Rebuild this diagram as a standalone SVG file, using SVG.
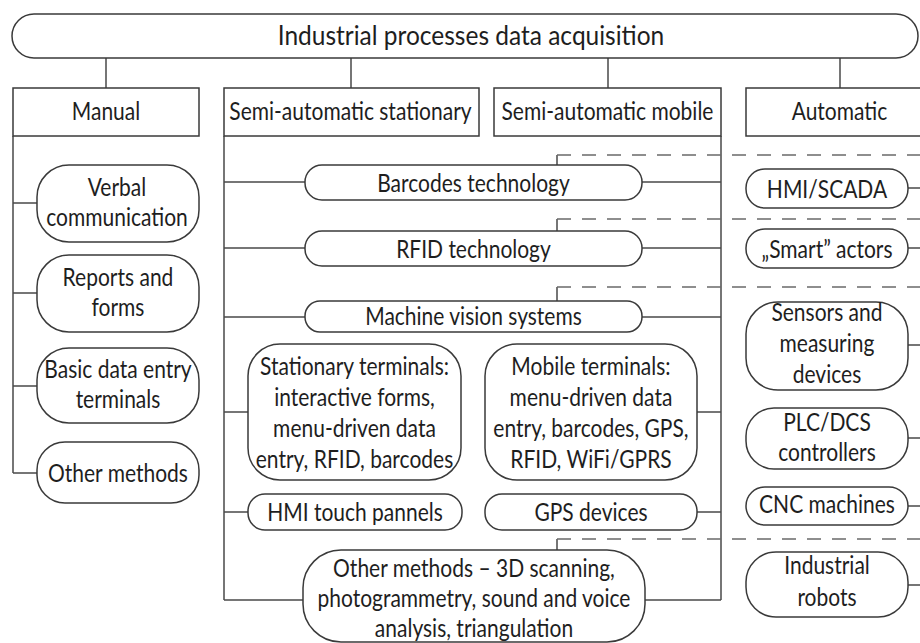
<svg xmlns="http://www.w3.org/2000/svg" width="920" height="643" viewBox="0 0 920 643">
  <style>
    .box { fill: #fff; stroke: #3a3a3a; stroke-width: 1.5; }
    .ln { fill: none; stroke: #4a4a4a; stroke-width: 1.5; }
    .dash { fill: none; stroke: #6a6a6a; stroke-width: 1.5; stroke-dasharray: 14 11; }
    text { font-family: Lato, "Liberation Sans", sans-serif; font-size: 21px; fill: #1e1e1e; text-anchor: middle;
           transform-box: fill-box; transform-origin: center; transform: scaleY(1.2); }
    text.title { font-size: 24.5px; transform: scaleY(1.08); }
  </style>
  <rect width="920" height="643" fill="#fff"/>

  <!-- connectors -->
  <g id="connectors">
    <!-- root to categories -->
    <path class="ln" d="M106 58V88M351 58V88M608 58V88M840 58V88"/>
    <!-- manual branch -->
    <path class="ln" d="M13 136V473M13 203H37M13 293H37M13 386H37M13 473H37"/>
    <!-- semi-automatic stationary branch -->
    <path class="ln" d="M224 136V600M224 182H305M224 248H305M224 317H305M224 412H248M224 512H248M224 600H303"/>
    <!-- semi-automatic mobile branch -->
    <path class="ln" d="M721 136V600M642 182H721M642 248H721M642 317H721M697 412H721M697 512H721M645 600H721"/>
    <!-- automatic branch -->
    <path class="ln" d="M908 188H920M908 248H920M908 345H920M908 438H920M908 506H920M908 585H920"/>
    <!-- shared technologies -->
    <path class="ln" d="M557 165V155M557 231V219M557 302V287M557 550V539"/>
    <path class="dash" d="M557 155H920M557 219H920M557 287H920M557 539H920"/>
  </g>

  <g id="root">
    <rect class="box" x="12" y="14" width="906" height="44" rx="22"/>
    <text class="title" x="471" y="44">Industrial processes data acquisition</text>
  </g>

  <g id="manual">
    <rect class="box" x="13" y="88" width="186" height="48"/>
    <text x="106" y="118">Manual</text>
  </g>
  <g id="semi-stationary">
    <rect class="box" x="224" y="88" width="255" height="48"/>
    <text x="350.5" y="118">Semi-automatic stationary</text>
  </g>
  <g id="semi-mobile">
    <rect class="box" x="494" y="88" width="227" height="48"/>
    <text x="607.5" y="118">Semi-automatic mobile</text>
  </g>
  <g id="automatic">
    <rect class="box" x="746" y="88" width="190" height="48"/>
    <text x="839.5" y="118">Automatic</text>
  </g>

  <!-- manual methods -->
  <g id="verbal">
    <rect class="box" x="37" y="165" width="162" height="77" rx="32"/>
    <text x="117" y="194">Verbal</text>
    <text x="117" y="224">communication</text>
  </g>
  <g id="reports">
    <rect class="box" x="37" y="255" width="162" height="77" rx="32"/>
    <text x="118" y="284">Reports and</text>
    <text x="118" y="314">forms</text>
  </g>
  <g id="basic-terminals">
    <rect class="box" x="37" y="348" width="162" height="75" rx="32"/>
    <text x="118" y="376">Basic data entry</text>
    <text x="118" y="406">terminals</text>
  </g>
  <g id="manual-other">
    <rect class="box" x="37" y="442" width="162" height="61" rx="28"/>
    <text x="118" y="480">Other methods</text>
  </g>

  <!-- semi-automatic methods -->
  <g id="barcodes">
    <rect class="box" x="305" y="165" width="337" height="35" rx="17"/>
    <text x="473.5" y="190">Barcodes technology</text>
  </g>
  <g id="rfid">
    <rect class="box" x="305" y="231" width="337" height="35" rx="17"/>
    <text x="473.5" y="256">RFID technology</text>
  </g>
  <g id="vision">
    <rect class="box" x="305" y="301" width="337" height="31" rx="15"/>
    <text x="473.5" y="323">Machine vision systems</text>
  </g>
  <g id="stationary-terminals">
    <rect class="box" x="248" y="344" width="213" height="136" rx="32"/>
    <text x="354.5" y="373">Stationary terminals:</text>
    <text x="354.5" y="404">interactive forms,</text>
    <text x="354.5" y="435">menu-driven data</text>
    <text x="354.5" y="466">entry, RFID, barcodes</text>
  </g>
  <g id="mobile-terminals">
    <rect class="box" x="485" y="344" width="212" height="136" rx="32"/>
    <text x="591" y="373">Mobile terminals:</text>
    <text x="591" y="404">menu-driven data</text>
    <text x="591" y="435">entry, barcodes, GPS,</text>
    <text x="591" y="466">RFID, WiFi/GPRS</text>
  </g>
  <g id="hmi-panels">
    <rect class="box" x="248" y="494" width="214" height="36" rx="17"/>
    <text x="355" y="519">HMI touch pannels</text>
  </g>
  <g id="gps">
    <rect class="box" x="485" y="494" width="212" height="36" rx="17"/>
    <text x="591" y="519">GPS devices</text>
  </g>
  <g id="semi-other">
    <rect class="box" x="303" y="550" width="342" height="92" rx="38"/>
    <text x="474" y="575.5">Other methods – 3D scanning,</text>
    <text x="474" y="605.5">photogrammetry, sound and voice</text>
    <text x="474" y="635.5">analysis, triangulation</text>
  </g>

  <!-- automatic methods -->
  <g id="scada">
    <rect class="box" x="746" y="169" width="162" height="39" rx="19"/>
    <text x="827" y="196">HMI/SCADA</text>
  </g>
  <g id="actors">
    <rect class="box" x="746" y="229" width="162" height="39" rx="19"/>
    <text x="827" y="256">„Smart” actors</text>
  </g>
  <g id="sensors">
    <rect class="box" x="746" y="302" width="162" height="88" rx="32"/>
    <text x="827" y="319">Sensors and</text>
    <text x="827" y="350">measuring</text>
    <text x="827" y="381">devices</text>
  </g>
  <g id="plc">
    <rect class="box" x="746" y="408" width="162" height="61" rx="28"/>
    <text x="827" y="429">PLC/DCS</text>
    <text x="827" y="459">controllers</text>
  </g>
  <g id="cnc">
    <rect class="box" x="746" y="487" width="162" height="38" rx="19"/>
    <text x="827" y="511">CNC machines</text>
  </g>
  <g id="robots">
    <rect class="box" x="746" y="552" width="162" height="65" rx="30"/>
    <text x="827" y="572">Industrial</text>
    <text x="827" y="604">robots</text>
  </g>
</svg>
